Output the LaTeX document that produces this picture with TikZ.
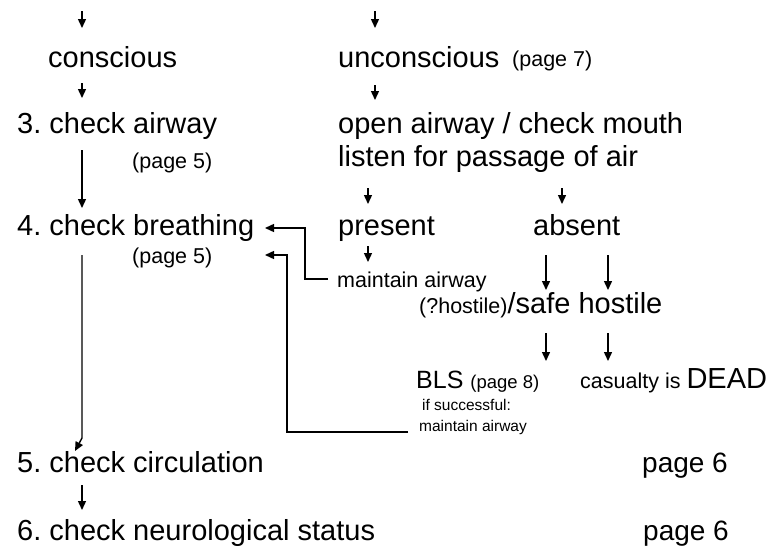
\documentclass[tikz,border=0pt]{standalone}
\usepackage{fontspec}
\setmainfont{Liberation Sans}
\usetikzlibrary{arrows.meta}
\tikzset{
  big/.style={inner sep=0pt, anchor=base west, font=\fontsize{29}{34}\selectfont},
  mid/.style={inner sep=0pt, anchor=base west, font=\fontsize{21.5}{26}\selectfont},
  tiny/.style={inner sep=0pt, anchor=base west, font=\fontsize{15.5}{19}\selectfont},
  pg/.style={inner sep=0pt, anchor=base west, font=\fontsize{28}{33}\selectfont},
  plain/.style={inner sep=0pt, anchor=base west},
  arr/.style={line width=1.4pt, -{Triangle[length=9pt,width=8pt]}}
}
\begin{document}
\frenchspacing
\begin{tikzpicture}[x=1pt,y=-1pt]
\useasboundingbox (0,0) rectangle (774,546);
% texts
\node[big] (con) at (48,67) {conscious};
\node[big] (uncon) at (338,67) {unconscious};
\node[mid] (p7) at (512,66) {(page 7)};
\node[big] (ca) at (17,133) {3. check airway};
\node[big] (oa) at (338,133) {open airway / check mouth};
\node[big] (lp) at (338,166) {listen for passage of air};
\node[mid] (p5a) at (132,168) {(page 5)};
\node[big] (cb) at (17,235) {4. check breathing};
\node[big] (pres) at (338,235) {present};
\node[big] (abs) at (533,235) {absent};
\node[mid] (p5b) at (132,263) {(page 5)};
\node[mid] (ma1) at (337,287) {maintain airway};
\node[plain] (sh) at (419,313) {{\fontsize{21.5}{26}\selectfont (?hostile)}{\fontsize{29}{34}\selectfont /safe hostile}};
\node[plain] (bls) at (416,388) {{\fontsize{25}{29}\selectfont BLS }{\fontsize{18.5}{22}\selectfont (page 8)}};
\node[plain] (dead) at (580,388) {{\fontsize{21.5}{26}\selectfont casualty is }{\fontsize{29}{34}\selectfont DEAD}};
\node[tiny] (ifs) at (422,410) {if successful:};
\node[tiny] (ma2) at (419,431) {maintain airway};
\node[big] (cc) at (17,472) {5. check circulation};
\node[pg] (pg1) at (642,472) {page 6};
\node[big] (cn) at (17,540) {6. check neurological status};
\node[pg] (pg2) at (643,540) {page 6};
% connector end points
\coordinate (t1s) at (82,11);   \coordinate (t1e) at (82,28);
\coordinate (t2s) at (375,11);  \coordinate (t2e) at (375,28);
\coordinate (a1s) at (82,83);   \coordinate (a1e) at (82,98);
\coordinate (a2s) at (375,85);  \coordinate (a2e) at (375,100);
\coordinate (a3s) at (82,150);  \coordinate (a3e) at (82,208);
\coordinate (a4s) at (368,188); \coordinate (a4e) at (368,204);
\coordinate (a5s) at (562,188); \coordinate (a5e) at (562,204);
\coordinate (a6s) at (368,246); \coordinate (a6e) at (368,262);
\coordinate (a7s) at (546,255); \coordinate (a7e) at (546,290);
\coordinate (a8s) at (608,255); \coordinate (a8e) at (608,290);
\coordinate (a9s) at (546,333); \coordinate (a9e) at (546,361);
\coordinate (a10s) at (608,333); \coordinate (a10e) at (608,361);
\coordinate (a11s) at (82,255); \coordinate (a11m) at (82,438); \coordinate (a11e) at (75,451);
\coordinate (a12s) at (82,485); \coordinate (a12e) at (82,510);
\coordinate (b1s) at (328,279); \coordinate (b1e) at (265,228);
\coordinate (b2s) at (408,432); \coordinate (b2e) at (265,255);
% connectors
\draw[arr] (t1s) -- (t1e);
\draw[arr] (t2s) -- (t2e);
\draw[arr] (a1s) -- (a1e);
\draw[arr] (a2s) -- (a2e);
\draw[arr] (a3s) -- (a3e);
\draw[arr] (a4s) -- (a4e);
\draw[arr] (a5s) -- (a5e);
\draw[arr] (a6s) -- (a6e);
\draw[arr] (a7s) -- (a7e);
\draw[arr] (a8s) -- (a8e);
\draw[arr] (a9s) -- (a9e);
\draw[arr] (a10s) -- (a10e);
\draw[arr] (a11s) -- (a11m) -- (a11e);
\draw[arr] (a12s) -- (a12e);
\draw[arr] (b1s) -- (305,279) -- (305,228) -- (b1e);
\draw[arr] (b2s) -- (287,432) -- (287,255) -- (b2e);
\end{tikzpicture}
\end{document}
